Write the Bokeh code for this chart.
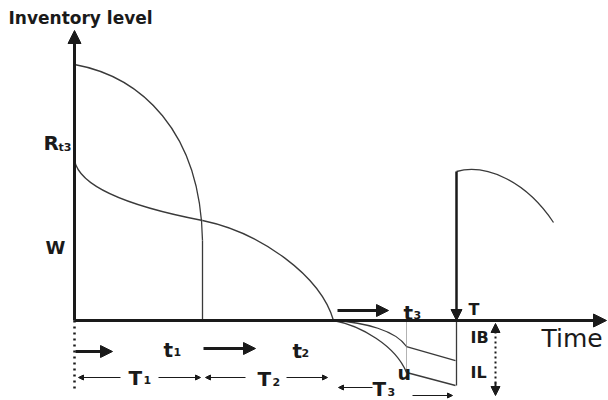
from bokeh.plotting import figure
from bokeh.models import Range1d, Arrow, NormalHead
from bokeh.core.properties import value
from bokeh.embed import file_html
from bokeh.resources import INLINE

# Coordinates: time along x, inventory level along y, origin at the cycle start.
# Axis extents
time_axis_end = 532
level_axis_end = 290

# Smooth parts of the inventory path as cubic segments
# (start, control 1, control 2, end)
seg_names = ["RW stock", "OW stock (to t1)", "OW stock (t1 to t2)",
             "backlog", "lost sales", "next cycle"]
seg_x0 = [0, 0, 128, 259, 259, 382]
seg_y0 = [256, 160, 100, 0, 0, 149]
seg_cx0 = [66, 6, 186, 291, 286, 411]
seg_cy0 = [244, 130, 88, -2, -5, 157]
seg_cx1 = [126, 66, 246, 321, 321, 451]
seg_cy1 = [190, 112, 45, -10, -25, 140]
seg_x1 = [128, 128, 259, 332, 332, 479]
seg_y1 = [80, 100, 0, -26, -52, 98]

# Straight parts of the path
line_x0 = [128, 332, 332, 382]
line_y0 = [80, -26, -52, -65]
line_x1 = [128, 381, 381, 382]
line_y1 = [0, -40, -65, 0]

# Key instants on the time axis
t3_time = 332
t3_level_low = -52
cycle_end = 382
reorder_level = 149

p = figure(width=608, height=400, output_backend="svg", toolbar_location=None,
           x_range=Range1d(-74, 534), y_range=Range1d(-80, 320),
           x_axis_location=None, y_axis_location=None, min_border=0)
p.grid.visible = False
p.outline_line_color = None
p.background_fill_color = "white"
p.border_fill_color = "white"

ink = "#1a1a1a"
curve_col = "#3a3a3a"

# inventory curves
p.bezier(x0=seg_x0, y0=seg_y0, x1=seg_x1, y1=seg_y1,
         cx0=seg_cx0, cy0=seg_cy0, cx1=seg_cx1, cy1=seg_cy1,
         line_color=curve_col, line_width=1.3)
p.segment(x0=line_x0, y0=line_y0, x1=line_x1, y1=line_y1,
          line_color=curve_col, line_width=1.3)

# thin dotted marker at t3
p.segment(x0=[t3_time], y0=[0], x1=[t3_time], y1=[t3_level_low],
          line_color="#666666", line_width=1, line_dash="1 1")

# dotted line below the origin
p.segment(x0=[0], y0=[0], x1=[0], y1=[-72], line_color=ink,
          line_width=2.5, line_dash="2 4")

def arrow(x0, y0, x1, y1, lw, size):
    head = NormalHead(size=size, fill_color=ink, line_color=ink, line_width=1)
    p.add_layout(Arrow(x_start=x0, y_start=y0, x_end=x1, y_end=y1,
                       end=head, line_color=ink, line_width=lw))

# axes
arrow(0, 0, 0, level_axis_end, 3, 13)
arrow(0, 0, time_axis_end, 0, 3, 13)
# replenishment at T
arrow(cycle_end, reorder_level, cycle_end, 0, 2.5, 11)

# thick phase arrows
arrow(1, -31, 38, -31, 3, 12)
arrow(129, -28, 181, -28, 3, 12)
arrow(263, 10, 314, 10, 3, 12)

# thin span arrows
for (a, b, c, d) in [(46, -57, 4, -57), (84, -57, 126, -57),
                     (171, -57, 131, -57), (212, -57, 253, -57),
                     (298, -67, 264, -67), (338, -75, 378, -75)]:
    arrow(a, b, c, d, 1, 5)

# dotted double arrow for IB / IL
arrow(421, -12, 421, -3, 2, 9)
arrow(421, -62, 421, -75, 2, 9)
p.segment(x0=[421], y0=[-6], x1=[421], y1=[-70], line_color=ink,
          line_width=2, line_dash="2 3")

font = value("DejaVu Sans")
lift = 5

def label(x, y, txt, size, bold=True):
    p.text(x=[x], y=[y + lift], text=[txt], text_font=font,
           text_font_size=f"{size}px",
           text_font_style="bold" if bold else "normal",
           text_align="left", text_baseline="alphabetic", text_color=ink)

label(-66, 298, "Inventory level", 17)
label(-31, 173, "R", 20)
label(-16, 168, "t3", 11)
label(-29, 68, "W", 18)
label(89, -34, "t", 20)
label(99, -36, "1", 11)
label(218, -35, "t", 20)
label(227, -37, "2", 11)
label(329, 3, "t", 20)
label(339, 1, "3", 11)
label(54, -62, "T", 20)
label(69, -64, "1", 11)
label(183, -63, "T", 20)
label(198, -66, "2", 11)
label(298, -73, "T", 20)
label(313, -76, "3", 11)
label(394, 6, "T", 16)
label(396, -22, "IB", 16)
label(396, -57, "IL", 16)
label(323, -57, "u", 19)
label(467, -23, "Time", 25, bold=False)

open("out.html", "w").write(file_html(p, INLINE))
